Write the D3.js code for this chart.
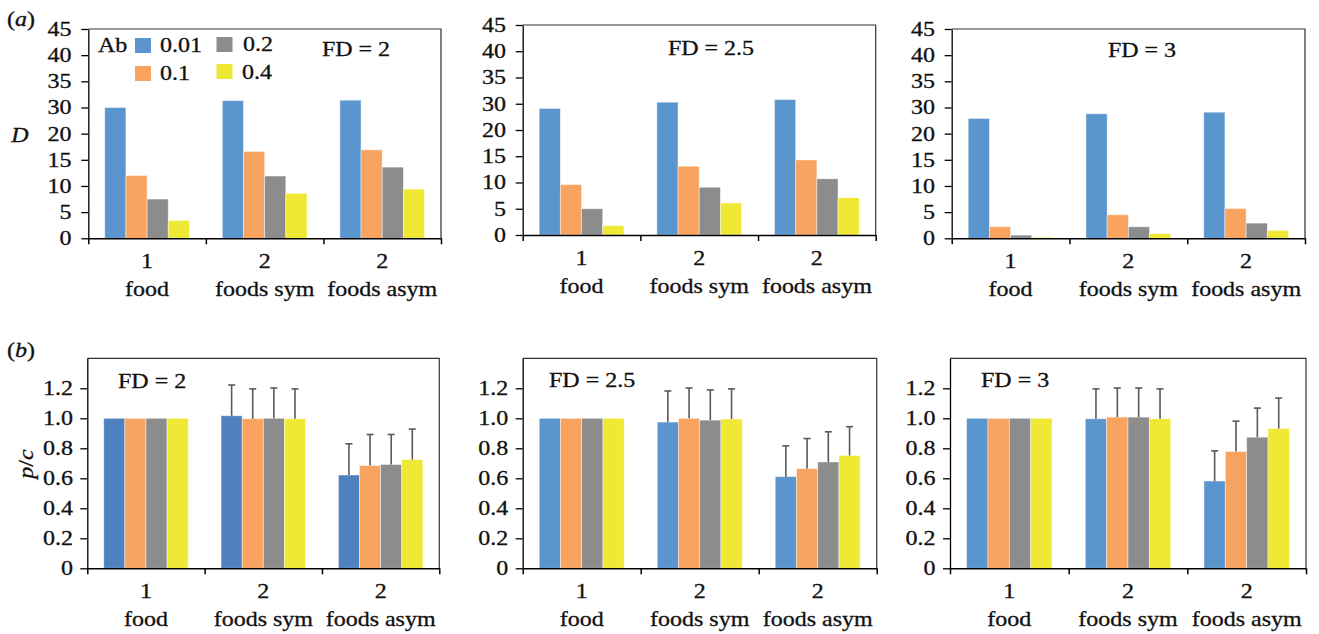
<!DOCTYPE html>
<html><head><meta charset="utf-8">
<script src="https://cdn.jsdelivr.net/npm/d3@7"></script>
<style>body{margin:0;background:#fff}svg{display:block}</style>
</head><body>
<svg id="c" width="1319" height="634"></svg>
<script>
// ---------------- data ----------------
const catLine1 = ["1", "2", "2"];
const catLine2 = ["food", "foods sym", "foods asym"];
const abLevels = ["0.01", "0.1", "0.2", "0.4"];
const fdLabels = ["FD = 2", "FD = 2.5", "FD = 3"];
const dTicks = [0, 5, 10, 15, 20, 30, 35, 40, 45];          // labels as printed (no 25)
const pcTicks = [0, 0.2, 0.4, 0.6, 0.8, 1.0, 1.2];

// D values: rows = categories, cols = Ab levels
const dFD2  = [[30.0, 12.0, 7.5, 3.4], [31.3, 16.6, 11.9, 8.6], [31.4, 16.9, 13.6, 9.4]];
const dFD25 = [[28.2, 9.6, 5.0, 1.8], [30.3, 13.1, 9.1, 6.1], [30.8, 14.3, 10.7, 7.1]];
const dFD3  = [[25.8, 2.2, 0.6, 0.2], [27.6, 4.5, 2.2, 0.9], [28.2, 5.7, 2.9, 1.5]];

// p/c values and upper error
const pcFD2  = [[1, 1, 1, 1], [1.017, 0.997, 1.0, 0.997], [0.622, 0.685, 0.692, 0.725]];
const pcErrFD2  = [[0, 0, 0, 0], [0.205, 0.199, 0.202, 0.199], [0.208, 0.207, 0.200, 0.203]];
const pcFD25 = [[1, 1, 1, 1], [0.975, 1.0, 0.988, 0.995], [0.611, 0.665, 0.709, 0.752]];
const pcErrFD25 = [[0, 0, 0, 0], [0.207, 0.202, 0.201, 0.201], [0.205, 0.200, 0.201, 0.192]];
const pcFD3  = [[1, 1, 1, 1], [0.997, 1.008, 1.008, 0.997], [0.582, 0.778, 0.874, 0.932]];
const pcErrFD3  = [[0, 0, 0, 0], [0.199, 0.194, 0.194, 0.199], [0.201, 0.203, 0.194, 0.203]];

// ---------------- style ----------------
const colors = ["#5B95CD", "#F8A35F", "#8C8C8C", "#EFE834"];
const colorsB1 = ["#4F80BF", "#F8A35F", "#8C8C8C", "#EFE834"];
const FONT = "'Liberation Serif','Times New Roman',serif";
const SX = 1.2;
const FS = 20;

const svg = d3.select("#c");

function styleText(t) {
  t.attr("font-family", FONT).attr("font-size", FS).attr("fill", "#111")
   .attr("stroke", "#111").attr("stroke-width", 0.3);
}

function label(x, y, txt, opts = {}) {
  const g = svg.append("g").attr("transform", `translate(${x},${y})${opts.rotate ? ` rotate(${opts.rotate})` : ""}`);
  const t = g.append("text")
    .attr("transform", `scale(${SX},1)`)
    .attr("text-anchor", opts.anchor || "start");
  styleText(t);
  if (opts.italic) t.attr("font-style", "italic");
  if (opts.parts) {
    opts.parts.forEach(p => t.append("tspan").text(p[0]).attr("font-style", p[1] ? "italic" : "normal"));
  } else t.text(txt);
  return g;
}

function panel(box, kind, vals, errs, fd, fdPos, cols) {
  const { l, r, t, b } = box;
  const g = svg.append("g");
  const xb = d3.scaleBand().domain(d3.range(catLine1.length)).range([l, r]);
  const xl = d3.scaleLinear().domain([0, catLine1.length]).range([l, r]);
  const pad = xb.bandwidth() * 0.14;
  const xs = d3.scaleBand().domain(d3.range(abLevels.length)).range([pad, xb.bandwidth() - pad]);
  let y;
  if (kind === "D") {
    y = d3.scaleLinear().domain([0, 20, 30, 45]).range([b, b - (b - t) * 20 / 40, b - (b - t) * 25 / 40, t]);
  } else {
    y = d3.scaleLinear().domain([0, 1.4]).range([b, t]);
  }
  // frame
  g.append("path").attr("d", `M${l},${t}H${r}V${b}`).attr("fill", "none").attr("stroke", "#333").attr("stroke-width", 1.2);

  // bars
  vals.forEach((row, ci) => {
    row.forEach((v, si) => {
      g.append("rect")
        .attr("x", xb(ci) + xs(si))
        .attr("width", xs.bandwidth())
        .attr("y", y(v))
        .attr("height", y(0) - y(v))
        .attr("fill", cols[si])
        .attr("stroke", "rgba(255,255,255,0.55)")
        .attr("stroke-width", 0.8);
      if (errs && errs[ci][si] > 0) {
        const cx = xb(ci) + xs(si) + xs.bandwidth() / 2;
        const top = y(v + errs[ci][si]);
        g.append("line").attr("x1", cx).attr("x2", cx).attr("y1", y(v)).attr("y2", top)
          .attr("stroke", "#595959").attr("stroke-width", 1.6);
        g.append("line").attr("x1", cx - 3.5).attr("x2", cx + 3.5).attr("y1", top).attr("y2", top)
          .attr("stroke", "#595959").attr("stroke-width", 1.6);
      }
    });
  });

  // y axis
  const ya = d3.axisLeft(y).tickSize(7).tickSizeOuter(0).tickPadding(kind === "D" ? 7 : 5);
  if (kind === "D") ya.tickValues(dTicks).tickFormat(d => String(d));
  else ya.tickValues(pcTicks).tickFormat(d => d === 0 ? "0" : d.toFixed(1));
  const yg = g.append("g").attr("transform", `translate(${l},0)`).call(ya);
  yg.selectAll("path,line").attr("stroke", "#000").attr("stroke-width", 1.3);
  yg.selectAll("text").attr("transform", `scale(${SX},1)`).call(styleText);

  // x axis
  const xa = d3.axisBottom(xl).tickValues(d3.range(catLine1.length + 1)).tickFormat("").tickSize(6).tickSizeOuter(0);
  const xg = g.append("g").attr("transform", `translate(0,${b})`).call(xa);
  xg.selectAll("path,line").attr("stroke", "#000").attr("stroke-width", 1.5);

  catLine1.forEach((c, i) => {
    const cx = xb(i) + xb.bandwidth() / 2;
    label(cx, b + 30, c, { anchor: "middle" });
    label(cx, b + 58, catLine2[i], { anchor: "middle" });
  });

  label(fdPos[0], fdPos[1], fd, { anchor: fdPos[2] });
  return { xb, y };
}

// top row (a)
panel({ l: 88.3, r: 441, t: 29, b: 238.3 }, "D", dFD2, null, fdLabels[0], [356, 56, "middle"], colors);
panel({ l: 522.7, r: 875.7, t: 25, b: 235 }, "D", dFD25, null, fdLabels[1], [711, 55, "middle"], colors);
panel({ l: 951.7, r: 1305, t: 29, b: 238.3 }, "D", dFD3, null, fdLabels[2], [1142, 57, "middle"], colors);

// bottom row (b)
panel({ l: 87.3, r: 439.3, t: 358.3, b: 568.3 }, "pc", pcFD2, pcErrFD2, fdLabels[0], [118, 388, "start"], colorsB1);
panel({ l: 522.7, r: 876.7, t: 358.3, b: 568.3 }, "pc", pcFD25, pcErrFD25, fdLabels[1], [549, 387, "start"], colors);
panel({ l: 950, r: 1306, t: 358.3, b: 568.3 }, "pc", pcFD3, pcErrFD3, fdLabels[2], [981, 387, "start"], colors);

// legend (top-left panel)
label(98, 52, "Ab");
const legPos = [[135, 38, 160, 52], [135, 66, 160, 80], [216.5, 37, 243, 51], [216.5, 64, 242, 79]];
abLevels.forEach((a, i) => {
  const p = legPos[i];
  svg.append("rect").attr("x", p[0]).attr("y", p[1]).attr("width", 16).attr("height", 15).attr("fill", colors[i]);
  label(p[2], p[3], a);
});

// panel letters and axis titles
label(7, 26, null, { parts: [["(", false], ["a", true], [")", false]] });
label(7, 357, null, { parts: [["(", false], ["b", true], [")", false]] });
label(20, 142, "D", { italic: true, anchor: "middle" });
label(33, 464, null, { rotate: -90, anchor: "middle", parts: [["p", true], ["/", false], ["c", true]] });
</script>
</body></html>
